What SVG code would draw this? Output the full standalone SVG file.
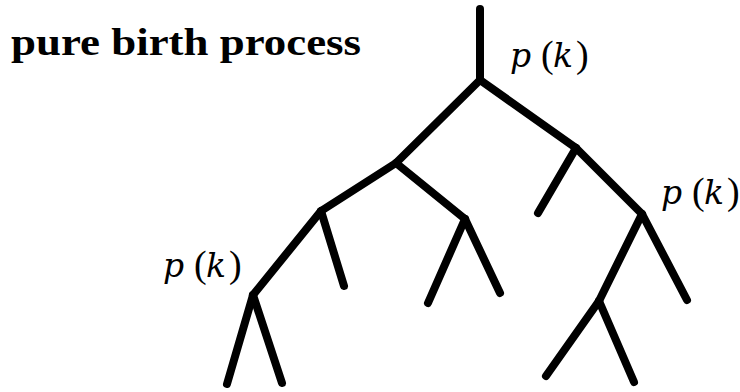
<svg xmlns="http://www.w3.org/2000/svg" width="740" height="392" viewBox="0 0 740 392">
<style>
.br{stroke:#000;stroke-width:8;stroke-linecap:round;stroke-linejoin:round;fill:none}
.lbl{font-family:"Liberation Serif","Times New Roman",serif;font-size:38px;fill:#000}
.it{font-style:italic;font-family:"DejaVu Serif","Liberation Serif",serif;font-size:33px}
.title{font-family:"Liberation Serif","Times New Roman",serif;font-size:37px;font-weight:bold;fill:#000}
</style>
<rect width="740" height="392" fill="#fff"/>
<g id="title"><text class="title" x="11" y="55" textLength="350" lengthAdjust="spacingAndGlyphs">pure birth process</text></g>
<g id="connectors">
<line class="br" x1="480" y1="9" x2="480" y2="80"/>
<line class="br" x1="480" y1="80" x2="396" y2="163"/>
<line class="br" x1="480" y1="80" x2="576" y2="148"/>
<line class="br" x1="396" y1="163" x2="321" y2="211"/>
<line class="br" x1="396" y1="163" x2="465" y2="219"/>
<line class="br" x1="321" y1="211" x2="344" y2="286"/>
<line class="br" x1="321" y1="211" x2="253" y2="295"/>
<line class="br" x1="253" y1="295" x2="227" y2="384"/>
<line class="br" x1="253" y1="295" x2="282" y2="383"/>
<line class="br" x1="465" y1="219" x2="428" y2="303"/>
<line class="br" x1="465" y1="219" x2="500" y2="293"/>
<line class="br" x1="576" y1="148" x2="538" y2="213"/>
<line class="br" x1="576" y1="148" x2="642" y2="214"/>
<line class="br" x1="642" y1="214" x2="687" y2="300"/>
<line class="br" x1="642" y1="214" x2="599" y2="301"/>
<line class="br" x1="599" y1="301" x2="546" y2="376"/>
<line class="br" x1="599" y1="301" x2="634" y2="382"/>
</g>
<g id="label-root"><text class="lbl" y="67"><tspan class="it" x="510">p</tspan><tspan x="541">(</tspan><tspan class="it" x="553">k</tspan><tspan x="576">)</tspan></text></g>
<g id="label-right"><text class="lbl" y="204"><tspan class="it" x="661">p</tspan><tspan x="692">(</tspan><tspan class="it" x="704">k</tspan><tspan x="727">)</tspan></text></g>
<g id="label-left"><text class="lbl" y="277"><tspan class="it" x="163">p</tspan><tspan x="194">(</tspan><tspan class="it" x="206">k</tspan><tspan x="229">)</tspan></text></g>
</svg>
